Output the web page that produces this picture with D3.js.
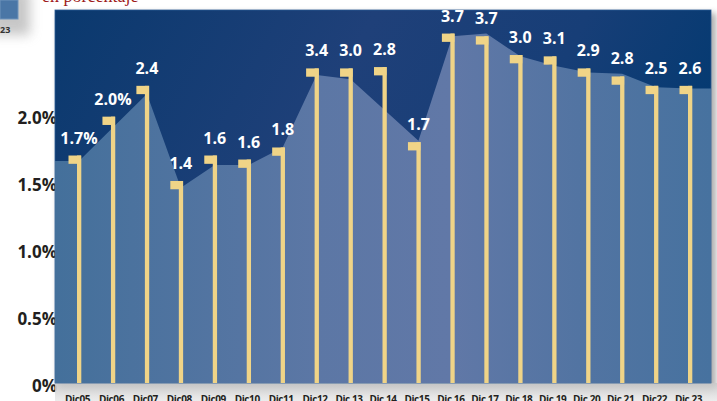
<!DOCTYPE html>
<html>
<head>
<meta charset="utf-8">
<script src="https://cdn.jsdelivr.net/npm/d3@7"></script>
<style>
  html, body { margin: 0; padding: 0; background: #ffffff; }
  svg { display: block; }
</style>
</head>
<body>
<svg id="chart" width="717" height="401"></svg>
<script>
// ---- data ----
const categories = ["Dic05","Dic06","Dic07","Dic08","Dic09","Dic10","Dic11","Dic12","Dic 13","Dic 14",
                    "Dic15","Dic 16","Dic 17","Dic 18","Dic 19","Dic 20","Dic 21","Dic22","Dic 23"];
const valueLabels = ["1.7%","2.0%","2.4","1.4","1.6","1.6","1.8","3.4","3.0","2.8",
                     "1.7","3.7","3.7","3.0","3.1","2.9","2.8","2.5","2.6"];
// height of each flag pole, in units of the drawn % axis
const poleLevels = [1.72,2.01,2.24,1.53,1.72,1.69,1.78,2.37,2.37,2.38,
                    1.82,2.63,2.61,2.47,2.46,2.37,2.31,2.24,2.24];
// outline of the light background area, in units of the drawn % axis
const areaLevels = [1.68,1.93,2.18,1.48,1.65,1.65,1.78,2.32,2.29,2.06,
                    1.83,2.61,2.63,2.46,2.39,2.34,2.33,2.23,2.22];
const yTickValues = [0, 0.5, 1.0, 1.5, 2.0];
const yTickLabels = ["0%","0.5%","1.0%","1.5%","2.0%"];
const subtitle = "en porcentaje";
const prevChartTick = "23";

// ---- layout ----
const W = 717, H = 401;
const panel = { left: 55, top: 10, right: 711, bottom: 383 };

const svg = d3.select("#chart");
const defs = svg.append("defs");

const x = d3.scalePoint().domain(categories).range([79, 690]).padding(0);
const y = d3.scaleLinear().domain([0, 2]).range([386, 118]);

// filters & gradients
const blur = defs.append("filter").attr("id", "blur").attr("x", "-50%").attr("y", "-50%")
  .attr("width", "200%").attr("height", "200%");
blur.append("feGaussianBlur").attr("stdDeviation", 6);
const blurSmall = defs.append("filter").attr("id", "blurS").attr("x", "-20%").attr("y", "-20%")
  .attr("width", "140%").attr("height", "140%");
blurSmall.append("feGaussianBlur").attr("stdDeviation", 3);

const bg = defs.append("linearGradient").attr("id", "bgGrad")
  .attr("x1", "0%").attr("y1", "0%").attr("x2", "100%").attr("y2", "30%");
[["0%", "#0a396e"], ["45%", "#1f4079"], ["75%", "#173e77"], ["100%", "#043a71"]]
  .forEach(([o, c]) => bg.append("stop").attr("offset", o).attr("stop-color", c));

const ag = defs.append("linearGradient").attr("id", "areaGrad")
  .attr("x1", "0%").attr("y1", "0%").attr("x2", "100%").attr("y2", "0%");
[["0%", "#44709b"], ["40%", "#5c77a5"], ["60%", "#6178a7"], ["80%", "#5274a2"], ["100%", "#47729f"]]
  .forEach(([o, c]) => ag.append("stop").attr("offset", o).attr("stop-color", c));

const bottomGrad = defs.append("linearGradient").attr("id", "bottomGrad")
  .attr("x1", "0%").attr("y1", "0%").attr("x2", "0%").attr("y2", "100%");
[["0%", "#c9c9c9"], ["100%", "#e9e9e9"]]
  .forEach(([o, c]) => bottomGrad.append("stop").attr("offset", o).attr("stop-color", c));

defs.append("clipPath").attr("id", "panelClip").append("rect")
  .attr("x", panel.left).attr("y", panel.top)
  .attr("width", panel.right - panel.left).attr("height", panel.bottom - panel.top);

// ---- fragment of the previous chart (top-left) ----
svg.append("rect").attr("x", -10).attr("y", -10).attr("width", 40).attr("height", 45)
  .attr("fill", "#9a9a9a").attr("opacity", 0.55).attr("filter", "url(#blur)");
svg.append("rect").attr("x", 0).attr("y", 0).attr("width", 18).attr("height", 19)
  .attr("fill", "#4a76a6").attr("stroke", "#6f93bb").attr("stroke-width", 1);
svg.append("text").attr("x", 0).attr("y", 33).text(prevChartTick)
  .attr("font-family", "Open Sans, sans-serif").attr("font-weight", 700)
  .attr("font-size", 9).attr("fill", "#333");
svg.append("text").attr("x", 42).attr("y", 2).text(subtitle)
  .attr("font-family", "Liberation Serif, serif").attr("font-size", 18)
  .attr("fill", "#9e1b1b");

// ---- y axis labels (drawn under the panel so the % is partly hidden) ----
const yAxis = d3.axisLeft(y).tickValues(yTickValues)
  .tickFormat((d, i) => yTickLabels[i]).tickSizeInner(0).tickSizeOuter(0).tickPadding(0);
const gy = svg.append("g").attr("transform", "translate(57,0)").call(yAxis);
gy.select(".domain").remove();
gy.selectAll("text").attr("font-family", "Open Sans, sans-serif").attr("font-weight", 700)
  .attr("font-size", 17).attr("fill", "#231f20");

// ---- panel shadow & bottom strip ----
svg.append("rect").attr("x", panel.left + 3).attr("y", panel.top + 3)
  .attr("width", panel.right - panel.left + 2).attr("height", panel.bottom - panel.top + 4)
  .attr("fill", "#8a8a8a").attr("opacity", 0.7).attr("filter", "url(#blurS)");
svg.append("rect").attr("x", panel.left).attr("y", panel.bottom)
  .attr("width", W - panel.left).attr("height", H - panel.bottom)
  .attr("fill", "url(#bottomGrad)").attr("opacity", 0.85);

// ---- panel ----
svg.append("rect").attr("x", panel.left).attr("y", panel.top)
  .attr("width", panel.right - panel.left).attr("height", panel.bottom - panel.top)
  .attr("fill", "url(#bgGrad)").attr("stroke", "#2a5b93").attr("stroke-width", 0.8);

const plot = svg.append("g").attr("clip-path", "url(#panelClip)");

// light area
const areaPts = categories.map((c, i) => [x(c), areaLevels[i]]);
areaPts.unshift([panel.left, areaLevels[0]]);
areaPts.push([panel.right, areaLevels[areaLevels.length - 1]]);
const area = d3.area().x(d => d[0]).y0(y(0)).y1(d => y(d[1])).curve(d3.curveLinear);
plot.append("path").attr("d", area(areaPts)).attr("fill", "url(#areaGrad)");

// flag poles
const flagColor = "#f0d487";
const poles = plot.selectAll("g.pole").data(categories).join("g").attr("class", "pole");
poles.append("rect")
  .attr("x", d => x(d) - 2)
  .attr("y", (d, i) => y(poleLevels[i]))
  .attr("width", 4.3)
  .attr("height", (d, i) => y(0) - y(poleLevels[i]))
  .attr("fill", flagColor);
poles.append("rect")
  .attr("x", d => x(d) - 10.5)
  .attr("y", (d, i) => y(poleLevels[i]))
  .attr("width", 12.5)
  .attr("height", 8.3)
  .attr("fill", flagColor);

// value labels
svg.selectAll("text.val").data(categories).join("text").attr("class", "val")
  .attr("x", d => x(d))
  .attr("y", (d, i) => y(poleLevels[i]) - 12)
  .attr("text-anchor", "middle")
  .attr("font-family", "Open Sans, sans-serif").attr("font-weight", 700)
  .attr("font-size", 16).attr("fill", "#ffffff")
  .text((d, i) => valueLabels[i]);

// ---- x axis labels ----
const xAxis = d3.axisBottom(x).tickSizeInner(0).tickSizeOuter(0).tickPadding(0);
const gx = svg.append("g").attr("transform", "translate(-2,396)").call(xAxis);
gx.select(".domain").remove();
gx.selectAll("text").attr("font-family", "Open Sans, sans-serif").attr("font-weight", 700)
  .attr("font-size", 10).attr("letter-spacing", -0.4).attr("fill", "#231f20");
</script>
</body>
</html>
